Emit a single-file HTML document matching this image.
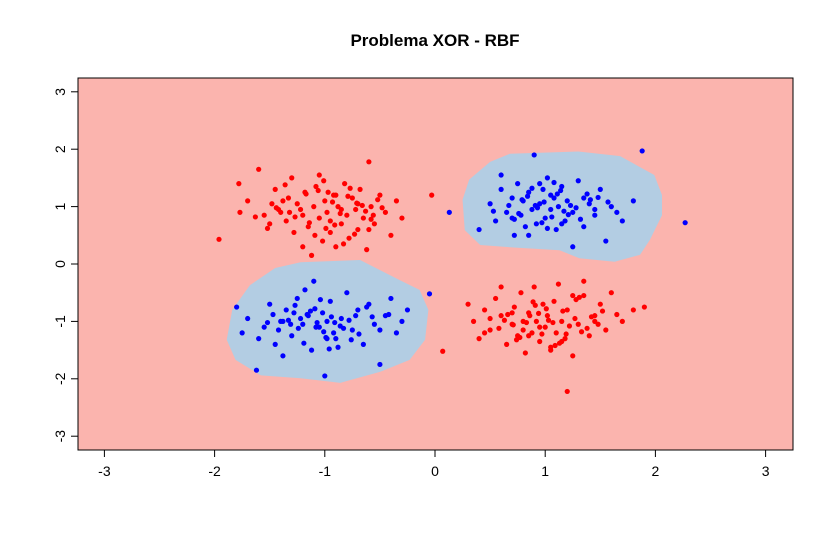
<!DOCTYPE html>
<html><head><meta charset="utf-8"><style>
body{margin:0;background:#fff;}
svg{display:block;font-family:"Liberation Sans",sans-serif;}
</style></head><body>
<svg id="c" width="833" height="548">
<text x="435" y="46" text-anchor="middle" font-size="17" font-weight="bold">Problema XOR - RBF</text>
<g id="plot"></g>
</svg>
<script>
const xTicks=[-3,-2,-1,0,1,2,3];
const yTicks=[-3,-2,-1,0,1,2,3];
// decision region outlines (data coords)
const regionUR=[[0.68,1.92],[1.3,1.96],[1.68,1.88],[1.99,1.55],[2.06,1.2],[2.06,0.85],[1.95,0.42],[1.86,0.16],[1.63,0.04],[1.31,0.1],[1.13,0.24],[0.77,0.28],[0.41,0.33],[0.27,0.59],[0.25,1.12],[0.31,1.47],[0.5,1.78]];
const regionLL=[[-1.22,0.03],[-0.68,0.07],[-0.32,-0.28],[-0.14,-0.45],[-0.06,-0.8],[-0.09,-1.32],[-0.23,-1.67],[-0.5,-1.88],[-0.86,-2.07],[-1.22,-1.99],[-1.58,-1.94],[-1.81,-1.67],[-1.89,-1.32],[-1.84,-0.8],[-1.68,-0.37],[-1.45,-0.07]];
const redX=[-1.96,-1.78,-1.77,-1.6,-1.55,-1.5,-1.45,-1.42,-1.38,-1.35,-1.3,-1.28,-1.25,-1.2,-1.18,-1.15,-1.1,-1.08,-1.05,-1.02,-1.0,-0.98,-0.95,-0.92,-0.9,-0.88,-0.85,-0.82,-0.8,-0.78,-0.75,-0.72,-0.7,-0.68,-0.65,-0.62,-0.6,-0.58,-0.55,-0.5,-0.45,-0.4,-0.35,-0.3,-0.03,-1.48,-1.2,-0.95,-0.7,-1.32,-1.05,-0.85,-0.6,-1.12,-0.9,
 -1.4,-1.33,-1.22,-1.14,-1.06,-0.99,-0.93,-0.86,-0.79,-0.73,-0.66,-0.58,-0.52,-1.52,-1.27,-1.01,-0.83,-0.63,-1.44,-1.17,-0.91,-0.77,-0.56,-1.09,-0.97,-0.71,-1.36,-0.48,-1.63,-1.7,
 1.2,0.07,0.3,0.35,0.4,0.45,0.5,0.55,0.6,0.65,0.7,0.72,0.75,0.78,0.8,0.82,0.85,0.88,0.9,0.92,0.95,0.98,1.0,1.02,1.05,1.08,1.1,1.12,1.15,1.18,1.2,1.25,1.3,1.35,1.4,1.45,1.5,1.55,1.6,1.7,1.8,1.9,0.6,0.85,1.05,1.25,1.45,0.7,0.95,1.15,1.35,0.5,0.8,
 0.58,0.66,0.74,0.83,0.91,0.97,1.03,1.09,1.16,1.22,1.28,1.33,1.42,1.48,0.63,0.77,0.89,1.01,1.13,1.27,1.38,0.94,1.07,1.19,0.71,0.86,1.31,1.52,0.45,1.65];
const redY=[0.43,1.4,0.9,1.65,0.85,0.7,1.3,0.95,1.1,0.75,1.5,0.55,1.05,0.85,1.25,0.65,1.0,1.35,0.8,0.4,1.1,0.9,0.55,1.2,0.3,1.0,0.7,1.4,0.85,0.45,1.15,0.95,0.6,1.3,0.8,0.25,1.78,1.0,0.7,1.2,0.9,0.5,1.1,0.8,1.2,1.05,0.3,0.75,1.05,0.9,1.55,0.95,0.6,0.15,1.2,
 0.9,1.15,0.95,0.72,1.28,0.62,1.08,0.88,1.18,0.52,1.02,0.78,1.12,0.62,0.82,1.45,0.35,0.92,0.98,1.22,0.68,1.32,0.85,0.5,1.25,1.06,1.38,0.98,0.82,1.1,
 -2.22,-1.52,-0.7,-1.0,-1.3,-0.8,-1.15,-0.6,-0.9,-1.4,-1.05,-0.75,-1.25,-0.5,-1.0,-1.55,-0.85,-1.2,-0.4,-1.0,-1.35,-0.7,-1.1,-0.9,-1.5,-0.65,-1.2,-0.35,-1.0,-1.3,-0.8,-1.6,-1.05,-0.55,-1.25,-0.9,-0.7,-1.15,-0.5,-1.0,-0.8,-0.75,-0.4,-1.25,-1.45,-0.55,-1.0,-0.85,-1.1,-1.35,-0.3,-0.95,-1.15,
 -1.12,-0.88,-1.32,-1.02,-0.72,-1.22,-0.98,-1.42,-0.82,-1.08,-0.62,-1.18,-0.92,-1.05,-0.98,-1.28,-0.66,-0.78,-1.38,-0.95,-1.12,-0.86,-1.02,-1.22,-1.06,-0.9,-0.58,-0.82,-1.2,-0.88];
const blueX=[1.88,2.27,0.13,0.4,0.5,0.55,0.6,0.65,0.7,0.72,0.75,0.78,0.8,0.82,0.85,0.88,0.9,0.92,0.95,0.98,1.0,1.02,1.05,1.08,1.1,1.12,1.15,1.18,1.2,1.25,1.3,1.35,1.4,1.45,1.5,1.55,1.6,1.7,1.8,0.6,0.85,1.05,1.25,1.45,0.7,0.95,1.15,1.35,1.65,
 0.67,0.76,0.84,0.93,0.99,1.06,1.11,1.17,1.23,1.32,1.41,0.88,1.02,1.14,0.79,1.28,0.97,1.38,1.57,0.53,1.08,0.91,1.21,0.72,1.48,
 -0.05,-1.8,-1.75,-1.7,-1.62,-1.55,-1.5,-1.45,-1.4,-1.35,-1.3,-1.25,-1.2,-1.15,-1.12,-1.1,-1.05,-1.02,-1.0,-0.98,-0.95,-0.9,-0.85,-0.8,-0.75,-0.7,-0.65,-0.6,-0.55,-0.5,-0.45,-0.4,-0.35,-0.3,-0.25,-1.6,-1.38,-1.18,-0.92,-0.72,-1.28,-1.08,-0.88,-0.62,-1.22,-0.98,-1.38,-0.5,
 -1.33,-1.24,-1.16,-1.07,-1.01,-0.94,-0.86,-0.78,-1.42,-1.13,-0.99,-0.83,-1.27,-1.04,-0.69,-1.19,-0.91,-1.47,-0.57,-1.09,-0.96,-1.31,-0.76,-1.52,-0.42];
const blueY=[1.97,0.72,0.9,0.6,1.05,0.75,1.3,0.9,1.15,0.5,1.4,0.85,1.1,0.65,1.25,0.95,1.9,0.7,1.05,1.3,0.8,1.5,0.95,1.15,0.6,1.0,1.35,0.75,1.1,0.9,1.45,0.65,1.05,0.85,1.3,0.4,1.0,0.75,1.1,1.55,0.5,1.2,0.3,0.95,0.8,1.4,0.7,1.15,0.9,
 1.02,0.88,1.18,0.98,1.08,0.82,1.22,0.92,1.02,0.78,1.12,1.32,0.62,1.28,1.12,0.98,0.72,1.22,1.08,0.92,1.42,1.02,0.86,0.78,1.16,
 -0.52,-0.75,-1.2,-0.95,-1.85,-1.1,-0.7,-1.4,-1.0,-0.8,-1.25,-0.6,-1.05,-0.9,-1.5,-0.3,-1.1,-0.85,-1.95,-1.0,-0.65,-1.3,-0.95,-0.5,-1.15,-0.8,-1.4,-0.7,-1.05,-1.75,-0.9,-0.6,-1.2,-1.0,-0.8,-1.3,-1.6,-0.45,-1.2,-0.9,-0.85,-1.1,-1.45,-0.75,-0.95,-1.3,-1.0,-1.15,
 -0.98,-1.12,-0.88,-1.02,-1.18,-0.92,-1.08,-0.98,-1.15,-0.82,-1.28,-1.12,-0.72,-0.62,-1.22,-1.38,-1.02,-0.88,-0.92,-0.78,-1.48,-1.05,-1.32,-1.02,-0.88];

const ns="http://www.w3.org/2000/svg";
const L=78,R=793,T=78,B=450;
function sx(v){return 435+v*110.2;}
function sy(v){return 264-v*57.4;}
const g=document.getElementById('plot');
function mk(tag,attrs,parent){const e=document.createElementNS(ns,tag);for(const k in attrs)e.setAttribute(k,attrs[k]);(parent||g).appendChild(e);return e;}
let bg=mk('rect',{x:L,y:T,width:R-L,height:B-T,fill:'#fbb4ae'});


[[regionUR,'region-blue-upper-right'],[regionLL,'region-blue-lower-left']].forEach(([pts,n])=>{
 const p=mk('polygon',{points:pts.map(q=>sx(q[0])+','+sy(q[1])).join(' '),fill:'#b3cde3'});
 
 
});
for(let i=0;i<redX.length;i++){
 const c=mk('circle',{cx:sx(redX[i]),cy:sy(redY[i]),r:2.6,fill:'#ff0000'});
 
 
}
for(let i=0;i<blueX.length;i++){
 const c=mk('circle',{cx:sx(blueX[i]),cy:sy(blueY[i]),r:2.6,fill:'#0000ff'});
 
 
}
let box=mk('rect',{x:L,y:T,width:R-L,height:B-T,fill:'none',stroke:'#000'});


xTicks.forEach(t=>{
 const ln=mk('line',{x1:sx(t),x2:sx(t),y1:B,y2:B+7,stroke:'#000'});
 
 
 const tx=mk('text',{x:sx(t),y:B+26,'text-anchor':'middle','font-size':14});
 tx.textContent=t;
 
 
});
yTicks.forEach(t=>{
 const ln=mk('line',{x1:L-7,x2:L,y1:sy(t),y2:sy(t),stroke:'#000'});
 
 
 const tx=mk('text',{x:L-13,y:sy(t),'text-anchor':'middle','font-size':14,transform:'rotate(-90 '+(L-13)+' '+sy(t)+')'});
 tx.textContent=t;
 
 
});
</script>
</body></html>
